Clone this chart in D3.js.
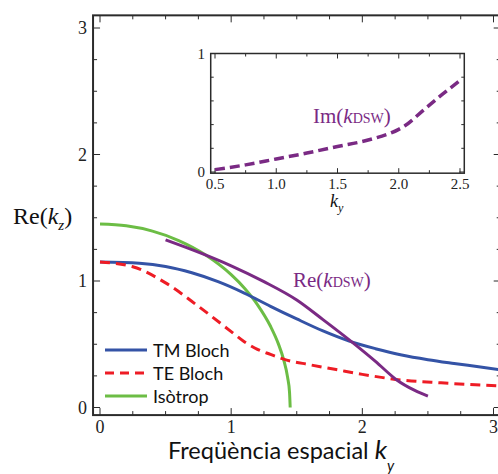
<!DOCTYPE html>
<html><head><meta charset="utf-8">
<script src="https://cdn.jsdelivr.net/npm/d3@7"></script>
<style>body{margin:0;background:#fff}svg{display:block}</style>
</head><body>
<script>
// ---- data ----
const xTicks = [0, 1, 2, 3];
const yTicks = [0, 1, 2, 3];
const tmX = [0, 0.3, 0.5, 0.7, 0.9, 1.1, 1.3, 1.5, 1.7, 1.9, 2.1, 2.3, 2.5, 2.7, 2.9, 3.05];
const tmY = [1.15, 1.14, 1.115, 1.065, 0.995, 0.905, 0.8, 0.7, 0.605, 0.525, 0.465, 0.415, 0.378, 0.348, 0.32, 0.298];
const teX = [0, 0.25, 0.5, 0.75, 1.0, 1.1, 1.2, 1.3, 1.4, 1.6, 1.8, 2.0, 2.3, 2.6, 3.05];
const teY = [1.15, 1.113, 0.985, 0.8, 0.6, 0.52, 0.46, 0.42, 0.382, 0.338, 0.3, 0.262, 0.217, 0.195, 0.17];
const isoX = [0, 0.2, 0.4, 0.6, 0.8, 1.0, 1.1, 1.2, 1.3, 1.36, 1.4, 1.43, 1.445, 1.45];
const isoY = [1.45, 1.436, 1.394, 1.32, 1.209, 1.05, 0.945, 0.814, 0.642, 0.503, 0.378, 0.24, 0.12, 0.0];
const reDswX = [0.5, 0.75, 1.0, 1.25, 1.5, 1.7, 1.9, 2.1, 2.26, 2.4, 2.5];
const reDswY = [1.325, 1.228, 1.12, 0.995, 0.85, 0.695, 0.535, 0.365, 0.22, 0.135, 0.09];
const imDswX = [0.5, 0.75, 1.0, 1.25, 1.5, 1.75, 2.0, 2.05, 2.2, 2.35, 2.51];
const imDswY = [0.02, 0.06, 0.11, 0.16, 0.215, 0.27, 0.36, 0.39, 0.52, 0.65, 0.78];
const insetXTicks = [0.5, 1.0, 1.5, 2.0, 2.5];
const insetYTicks = [0, 1];
const legendLabels = ["TM Bloch", "TE Bloch", "Isòtrop"];

const W = 498, H = 474;
const SERIF = "'Liberation Serif','DejaVu Serif',serif";
const SANS = "Lato,'Open Sans',sans-serif";
const C = {tm: "#3453a6", te: "#ee1c25", iso: "#6cbd45", dsw: "#7a2a84", frame: "#2b2b2b"};

const svg = d3.select("body").append("svg").attr("width", W).attr("height", H);

// ---- main plot ----
const x = d3.scaleLinear().domain([0, 3]).range([100, 493.5]);
const y = d3.scaleLinear().domain([0, 3]).range([407.5, 28]);
const fx0 = x(-0.053), fx1 = x(3.055), fy0 = y(-0.06), fy1 = y(3.1);

const line = (sx, sy) => d3.line().x(d => sx(d[0])).y(d => sy(d[1])).curve(d3.curveMonotoneX);
const zip = (a, b) => a.map((v, i) => [v, b[i]]);

// frame ticks
const gT = svg.append("g").attr("stroke", C.frame).attr("stroke-width", 1);
d3.range(0, 3.01, 0.25).forEach(v => {
  const len = Math.abs(v - Math.round(v)) < 1e-6 ? 7 : 4;
  gT.append("line").attr("x1", x(v)).attr("x2", x(v)).attr("y1", fy0).attr("y2", fy0 - len);
  gT.append("line").attr("x1", x(v)).attr("x2", x(v)).attr("y1", fy1).attr("y2", fy1 + len);
  gT.append("line").attr("y1", y(v)).attr("y2", y(v)).attr("x1", fx0).attr("x2", fx0 + len);
  gT.append("line").attr("y1", y(v)).attr("y2", y(v)).attr("x1", fx1).attr("x2", fx1 - len);
});
svg.append("rect").attr("x", fx0).attr("y", fy1).attr("width", fx1 - fx0).attr("height", fy0 - fy1)
  .attr("fill", "none").attr("stroke", C.frame).attr("stroke-width", 2);

// tick labels
svg.append("g").selectAll("text").data(xTicks).join("text")
  .attr("x", d => x(d)).attr("y", 433).attr("text-anchor", "middle")
  .attr("font-family", SERIF).attr("font-size", 18).attr("fill", "#222").text(d => d);
svg.append("g").selectAll("text").data(yTicks).join("text")
  .attr("x", 87).attr("y", d => y(d) + 6).attr("text-anchor", "end")
  .attr("font-family", SERIF).attr("font-size", 18).attr("fill", "#222").text(d => d);

// curves
const curves = [
  {d: zip(isoX, isoY), c: C.iso, dash: null},
  {d: zip(tmX, tmY), c: C.tm, dash: null},
  {d: zip(teX, teY), c: C.te, dash: "10,6"},
  {d: zip(reDswX, reDswY), c: C.dsw, dash: null}
];
curves.forEach(s => {
  svg.append("path").attr("d", line(x, y)(s.d)).attr("fill", "none")
    .attr("stroke", s.c).attr("stroke-width", 3).attr("stroke-dasharray", s.dash);
});

// axis titles
const yt = svg.append("text").attr("x", 13).attr("y", 224).attr("font-family", SERIF).attr("font-size", 24).attr("fill", "#111");
yt.append("tspan").text("Re(");
yt.append("tspan").attr("font-style", "italic").text("k");
yt.append("tspan").attr("font-style", "italic").attr("font-size", 15).attr("dy", 6).text("z");
yt.append("tspan").attr("dy", -6).text(")");

const xt = svg.append("text").attr("x", 168).attr("y", 459).attr("font-family", SANS).attr("font-size", 23.5).attr("fill", "#111");
xt.append("tspan").text("Freqüència espacial ");
xt.append("tspan").attr("font-style", "italic").attr("font-size", 26).text("k");
xt.append("tspan").attr("font-style", "italic").attr("font-size", 15).attr("dy", 12).text("y");

const rl = svg.append("text").attr("x", 293).attr("y", 287).attr("font-family", SERIF).attr("font-size", 21).attr("fill", C.dsw);
rl.append("tspan").text("Re(");
rl.append("tspan").attr("font-style", "italic").text("k");
rl.append("tspan").attr("font-size", 14).text("DSW");
rl.append("tspan").text(")");

// legend
const legY = [350, 373, 396];
const legC = [C.tm, C.te, C.iso];
const legD = [null, "9,6", null];
legendLabels.forEach((lab, i) => {
  svg.append("line").attr("x1", 105).attr("x2", 147).attr("y1", legY[i]).attr("y2", legY[i])
    .attr("stroke", legC[i]).attr("stroke-width", 3).attr("stroke-dasharray", legD[i]);
  svg.append("text").attr("x", 153).attr("y", legY[i] + 6.5).attr("font-family", SANS)
    .attr("font-size", 18).attr("fill", "#111").text(lab);
});

// ---- inset ----
const xi = d3.scaleLinear().domain([0.5, 2.5]).range([215, 460]);
const yi = d3.scaleLinear().domain([0, 1]).range([172, 53.5]);
const ix0 = xi(0.465), ix1 = xi(2.535), iy0 = yi(-0.01), iy1 = yi(1);
svg.append("rect").attr("x", ix0).attr("y", iy1).attr("width", ix1 - ix0).attr("height", iy0 - iy1).attr("fill", "#fff");
const gI = svg.append("g").attr("stroke", C.frame).attr("stroke-width", 1);
d3.range(0.5, 2.51, 0.25).forEach(v => {
  const len = Math.abs(v * 2 - Math.round(v * 2)) < 1e-6 ? 5 : 3;
  gI.append("line").attr("x1", xi(v)).attr("x2", xi(v)).attr("y1", iy0).attr("y2", iy0 - len);
  gI.append("line").attr("x1", xi(v)).attr("x2", xi(v)).attr("y1", iy1).attr("y2", iy1 + len);
});
d3.range(0, 1.01, 0.2).forEach(v => {
  const len = (v < 1e-6 || v > 0.99) ? 5 : 3;
  gI.append("line").attr("y1", yi(v)).attr("y2", yi(v)).attr("x1", ix0).attr("x2", ix0 + len);
  gI.append("line").attr("y1", yi(v)).attr("y2", yi(v)).attr("x1", ix1).attr("x2", ix1 - len);
});
svg.append("rect").attr("x", ix0).attr("y", iy1).attr("width", ix1 - ix0).attr("height", iy0 - iy1)
  .attr("fill", "none").attr("stroke", C.frame).attr("stroke-width", 1.5);

svg.append("g").selectAll("text").data(insetXTicks).join("text")
  .attr("x", d => xi(d)).attr("y", 189).attr("text-anchor", "middle")
  .attr("font-family", SERIF).attr("font-size", 15).attr("fill", "#222").text(d => d.toFixed(1));
svg.append("g").selectAll("text").data(insetYTicks).join("text")
  .attr("x", 205).attr("y", d => yi(d) + 5).attr("text-anchor", "end")
  .attr("font-family", SERIF).attr("font-size", 15).attr("fill", "#222").text(d => d);

svg.append("path").attr("d", line(xi, yi)(zip(imDswX, imDswY))).attr("fill", "none")
  .attr("stroke", C.dsw).attr("stroke-width", 3.5).attr("stroke-dasharray", "10,5");

const il = svg.append("text").attr("x", 313).attr("y", 123).attr("font-family", SERIF).attr("font-size", 21).attr("fill", C.dsw);
il.append("tspan").text("Im(");
il.append("tspan").attr("font-style", "italic").text("k");
il.append("tspan").attr("font-size", 14).text("DSW");
il.append("tspan").text(")");

const kl = svg.append("text").attr("x", 330).attr("y", 207).attr("font-family", SERIF).attr("font-size", 18).attr("fill", "#111");
kl.append("tspan").attr("font-style", "italic").text("k");
kl.append("tspan").attr("font-style", "italic").attr("font-size", 12).attr("dy", 5).text("y");
</script>
</body></html>
